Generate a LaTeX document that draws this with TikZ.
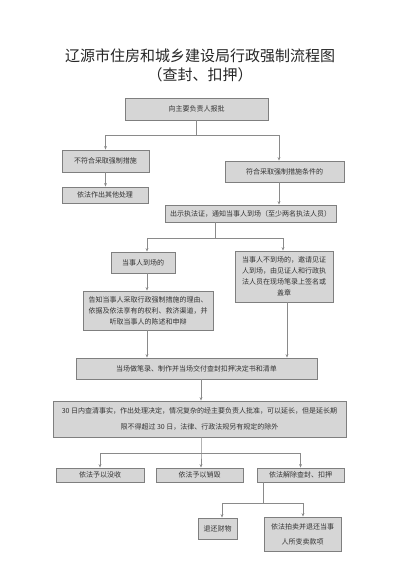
\documentclass[tikz,border=0pt]{standalone}
\usepackage{fontspec}
\setmainfont{Noto Sans CJK SC}
\usetikzlibrary{arrows.meta}
\definecolor{boxfill}{HTML}{D6D6D6}
\definecolor{boxline}{HTML}{7F7F7F}
\definecolor{lncol}{HTML}{8A8A8A}
\definecolor{txt}{HTML}{333333}
\begin{document}
\begin{tikzpicture}[x=1pt,y=-1pt,
  box/.style={draw=boxline, fill=boxfill, line width=0.8pt, inner sep=0pt, align=center,
    text=txt, font=\fontsize{7}{11}\selectfont},
  ln/.style={draw=lncol, line width=0.7pt},
  arr/.style={ln, -{Stealth[length=3.5pt,width=2.8pt]}}]
\useasboundingbox[fill=white] (0,0) rectangle (400,584);
\node[font=\fontsize{15}{15}\selectfont, text=black!85] (t1) at (200,56) {辽源市住房和城乡建设局行政强制流程图};
\node[font=\fontsize{15}{15}\selectfont, text=black!85] (t2) at (200,75) {（查封、扣押）};

\node[box, minimum width=143, minimum height=22] (b1) at (196.5,109) {向主要负责人报批};
\node[box, minimum width=87, minimum height=22] (b2) at (105.5,161) {不符合采取强制措施};
\node[box, minimum width=86, minimum height=16] (b3) at (105,195) {依法作出其他处理};
\node[box, minimum width=119, minimum height=21] (b4) at (284.5,171.5) {符合采取强制措施条件的};
\node[box, minimum width=171, minimum height=17] (b5) at (250.5,213.5) {出示执法证，通知当事人到场（至少两名执法人员）};
\node[box, minimum width=64, minimum height=21] (b6) at (143,262.5) {当事人到场的};
\node[box, minimum width=98, minimum height=51] (b7) at (284,276.5) {当事人不到场的，邀请见证\\人到场，由见证人和行政执\\法人员在现场笔录上签名或\\盖章};
\node[box, minimum width=130, minimum height=39] (b8) at (148,310.5) {告知当事人采取行政强制措施的理由、\\依据及依法享有的权利、救济渠道，并\\听取当事人的陈述和申辩};
\node[box, minimum width=241, minimum height=21] (b9) at (196.5,368.5) {当场做笔录、制作并当场交付查封扣押决定书和清单};
\node[box, minimum width=293, minimum height=36, font=\fontsize{7}{16}\selectfont] (b10) at (199.5,419) {30 日内查清事实，作出处理决定，情况复杂的经主要负责人批准，可以延长，但是延长期\\限不得超过 30 日，法律、行政法规另有规定的除外};
\node[box, minimum width=88, minimum height=14] (b11) at (100,475) {依法予以没收};
\node[box, minimum width=87, minimum height=14] (b12) at (199.5,475) {依法予以销毁};
\node[box, minimum width=87, minimum height=14] (b13) at (300.5,475) {依法解除查封、扣押};
\node[box, minimum width=39, minimum height=21] (b14) at (217.5,528.5) {退还财物};
\node[box, minimum width=77, minimum height=34, font=\fontsize{7}{15}\selectfont] (b15) at (302.5,534) {依法拍卖并退还当事\\人所变卖款项};

% connectors
\coordinate (j1) at (196.5,135);
\draw[ln] (b1.south) -- (j1);
\draw[arr] (j1) -| (b2.north);
\coordinate (j1r) at (279,135);
\draw[arr] (j1) -- (j1r) -- (j1r |- b4.north);
\draw[arr] (b2.south) -- (b2.south |- b3.north);
\coordinate (s4) at (279,182);
\draw[arr] (s4) -- (s4 |- b5.north);
\coordinate (s5) at (215,222);
\coordinate (j2) at (215,238);
\coordinate (j2l) at (147,238);
\coordinate (j2r) at (283,238);
\draw[ln] (s5) -- (j2);
\draw[arr] (j2) -- (j2l) -- (j2l |- b6.north);
\draw[arr] (j2) -- (j2r) -- (j2r |- b7.north);
\coordinate (s6) at (147,273);
\draw[arr] (s6) -- (s6 |- b8.north);
\coordinate (s8) at (147,330);
\draw[arr] (s8) -- (s8 |- b9.north);
\coordinate (s7) at (287,302);
\draw[arr] (s7) -- (s7 |- b9.north);
\coordinate (s9) at (201,379);
\draw[arr] (s9) -- (s9 |- b10.north);
\coordinate (s10) at (201,437);
\coordinate (j3) at (201,453);
\draw[arr] (s10) -- (j3) -- (j3 |- b12.north);
\draw[arr] (j3) -| (b11.north);
\draw[arr] (j3) -| (b13.north);
\coordinate (s13) at (263,482);
\coordinate (j4) at (263,503);
\coordinate (j4l) at (222,503);
\coordinate (j4r) at (303,503);
\draw[ln] (s13) -- (j4);
\draw[arr] (j4) -- (j4l) -- (j4l |- b14.north);
\draw[arr] (j4) -- (j4r) -- (j4r |- b15.north);
\end{tikzpicture}
\end{document}
